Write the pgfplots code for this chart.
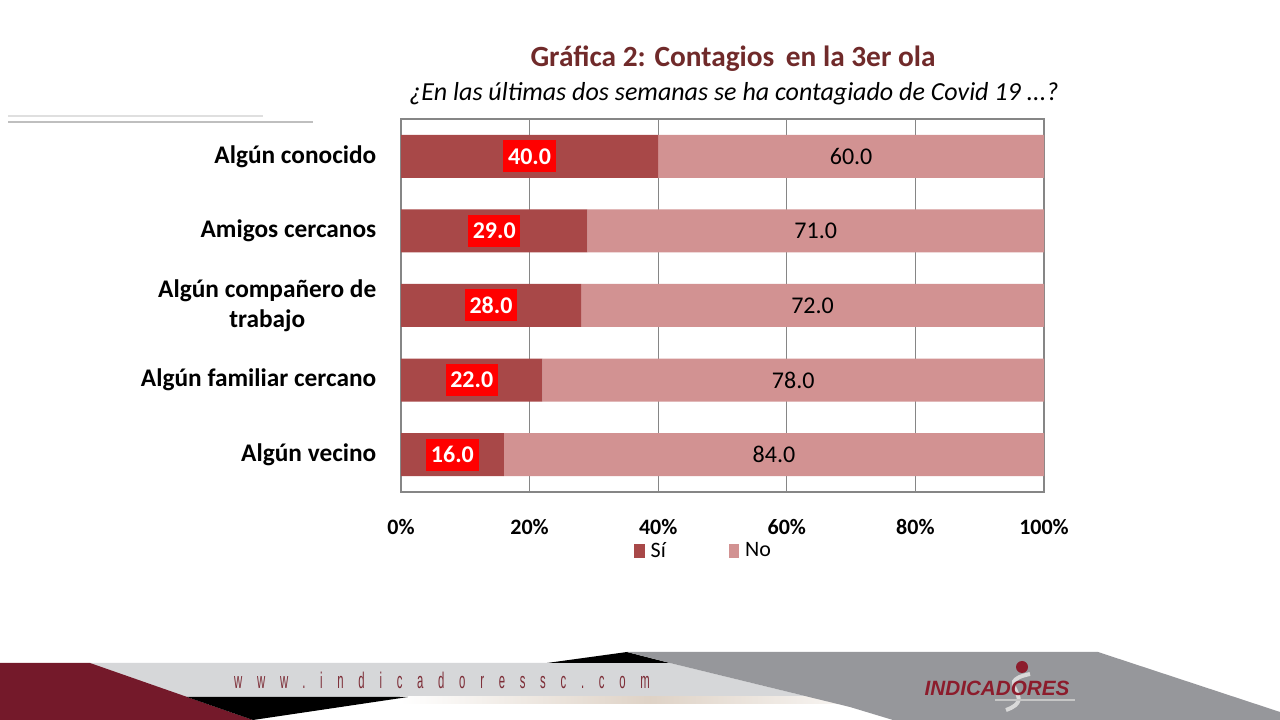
\documentclass[border=0pt]{standalone}
\usepackage{fontspec}
\setmainfont{Carlito}
\newfontfamily\sitefont[LetterSpace=130]{Liberation Sans}
\newfontfamily\logofont{Liberation Sans}
\usepackage{pgfplots}
\pgfplotsset{compat=1.18}
\usepackage{pgfplotstable}

\definecolor{siColor}{RGB}{168,72,72}
\definecolor{noColor}{RGB}{210,146,146}
\definecolor{titleColor}{RGB}{112,42,42}
\definecolor{labelRed}{RGB}{255,0,0}
\definecolor{gridGray}{RGB}{134,134,134}
\definecolor{bannerMaroon}{RGB}{116,25,42}
\definecolor{bandGray}{RGB}{214,215,217}
\definecolor{darkBand}{RGB}{150,151,155}
\definecolor{siteText}{RGB}{125,45,55}
\definecolor{logoRed}{RGB}{140,28,44}

% Porcentaje de respuestas por tipo de contacto (0 = abajo)
\pgfplotstableread{
pos si no
0   16 84
1   22 78
2   28 72
3   29 71
4   40 60
}\contagios

\pgfplotsset{
  sq legend/.style={legend image code/.code={\fill[##1,draw=none] (0pt,-5pt) rectangle (8pt,5pt);}},
  chart frame/.style={
    at={(300.75pt,171pt)}, anchor=south west,
    scale only axis, width=482.25pt, height=279.75pt,
    xmin=0, xmax=100, ymin=-0.5, ymax=4.5,
  },
}

\begin{document}
\begin{tikzpicture}[x=0.75pt,y=0.75pt]
\fill[white] (0,0) rectangle (1280,720);
\useasboundingbox (0,0) rectangle (1280,720);

% lineas decorativas superiores
\draw[line width=1.1pt, gray!25] (8,604) -- (263,604);
\draw[line width=2.2pt, gray!50] (8,598) -- (313,598);

% titulo
\node[font=\bfseries\fontsize{22}{26}\selectfont, text=titleColor] at (733,661) {Gráfica 2: Contagios\, en la 3er ola};
\node[font=\itshape\fontsize{19.5}{23}\selectfont] at (734,626) {¿En las últimas dos semanas se ha contagiado de Covid 19 ...?};

\begin{axis}[
  chart frame,
  xbar stacked, bar width=32.25pt,
  xtick={0,20,...,100},
  xticklabels={0\%,20\%,40\%,60\%,80\%,100\%},
  ytick={0,...,4},
  yticklabels={Algún vecino, Algún familiar cercano, {Algún compañero de\\trabajo}, Amigos cercanos, Algún conocido},
  yticklabel style={align=center, font=\bfseries\fontsize{19}{22.5}\selectfont, xshift=-15pt},
  xticklabel style={font=\bfseries\fontsize{16.5}{19}\selectfont, yshift=-17pt},
  /pgf/number format/assume math mode=true,
  major tick length=0pt,
  xmajorgrids, grid style={gridGray, line width=0.8pt},
  axis line style={gridGray, line width=1pt},
  legend style={at={(0.471,-0.158)}, anchor=center, draw=none, fill=none,
    font=\fontsize{16.5}{19}\selectfont, legend columns=2,
    /tikz/every odd column/.append style={column sep=2.5pt},
    /tikz/every even column/.append style={column sep=45pt}},
  legend cell align=left,
]
\addplot[fill=siColor, draw=none, sq legend] table[x=si, y=pos] {\contagios};
\addlegendentry{Sí}
\addplot[fill=noColor, draw=none, sq legend] table[x=no, y=pos] {\contagios};
\addlegendentry{No}
\end{axis}

% etiquetas de valor centradas en cada segmento
\begin{axis}[
  chart frame, hide axis,
  /pgf/number format/assume math mode=true,
  nodes near coords={\pgfmathprintnumber[fixed,fixed zerofill,precision=1,assume math mode=true]{\pgfplotspointmeta}},
]
\addplot[draw=none, mark=none, point meta=explicit,
  nodes near coords style={anchor=center, fill=labelRed, text=white,
    font=\bfseries\fontsize{18}{20}\selectfont, inner xsep=3.5pt, inner ysep=0pt, minimum height=24pt}]
  table[x expr=\thisrow{si}/2, y=pos, meta=si] {\contagios};
\addplot[draw=none, mark=none, point meta=explicit,
  nodes near coords style={anchor=center, text=black, font=\fontsize{18}{20}\selectfont}]
  table[x expr=\thisrow{si}+\thisrow{no}/2, y=pos, meta=no] {\contagios};
\end{axis}

% franja inferior
\fill[bandGray] (90,57) -- (670,57) -- (809,23) -- (90,23) -- cycle;
\shade[left color=white, right color=white, middle color=gray!45!brown!35] (400,23) rectangle (900,16);
\fill[bannerMaroon] (0,57) -- (90,57) -- (253,0) -- (0,0) -- cycle;
\fill[black] (187,23) -- (408,23) -- (253,0) -- cycle;
\fill[black] (547,57) -- (627,68) -- (670,57) -- cycle;
\fill[darkBand] (627,68) -- (1098,68) -- (1280,8) -- (1280,0) -- (893,0) -- (850,13) -- (670,57) -- cycle;
\node[font=\sitefont\fontsize{17}{18}\selectfont, text=siteText, xscale=0.5] at (442,40) {www.indicadoressc.com};

% logotipo
\draw[line width=3pt, gray!30] (1030,46) .. controls (990,38) and (1040,22) .. (1006,10);
\draw[line width=2pt, gray!45] (995,20) -- (1075,20);
\fill[logoRed] (1022,53) circle (6);
\node[font=\logofont\bfseries\itshape\fontsize{15.5}{16}\selectfont, text=logoRed] at (997,32) {INDICADORES};
\end{tikzpicture}
\end{document}
